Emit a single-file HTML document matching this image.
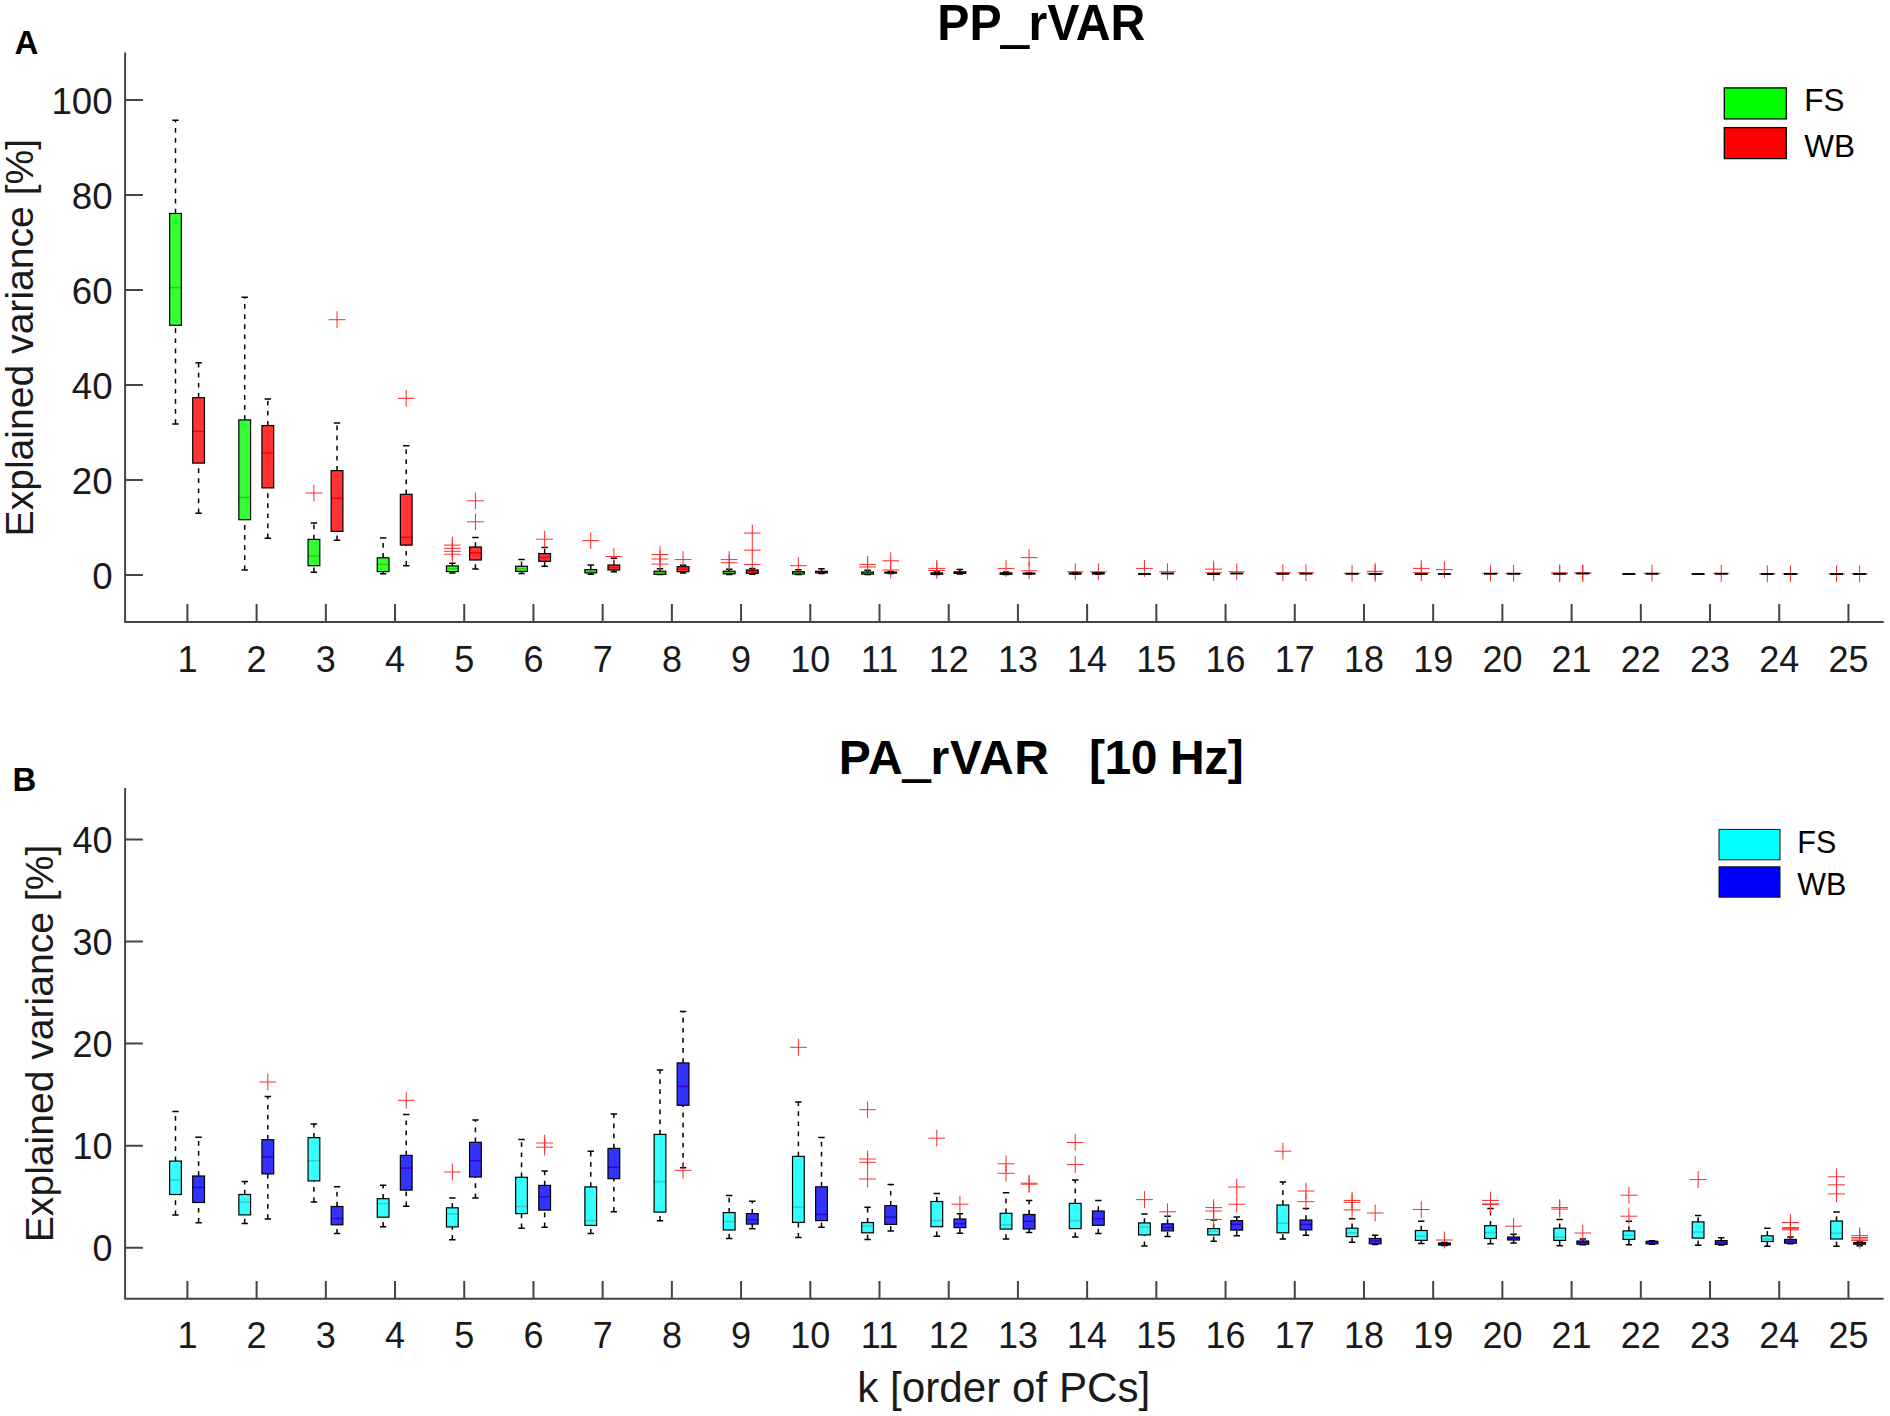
<!DOCTYPE html>
<html lang="en"><head><meta charset="utf-8"><title>PP_rVAR / PA_rVAR explained variance</title>
<style>
html,body{margin:0;padding:0;background:#fff}
body{width:1890px;height:1416px;overflow:hidden}
svg{display:block}
text{font-family:"Liberation Sans",Arial,Helvetica,sans-serif;fill:#111}
.t{font-size:36px;fill:#1a1a1a}
.t2{font-size:36.7px;fill:#1a1a1a}
.l{font-size:39.1px;fill:#1a1a1a}
.xl{font-size:42.2px;fill:#1a1a1a}
.ti{font-size:48px;font-weight:bold;fill:#000}
.pl{font-size:33px;font-weight:bold;fill:#000}
.lg{font-size:31.5px;fill:#000}
.lg2{font-size:30.5px;fill:#000}
.ax{fill:none;stroke:#444;stroke-width:2}
.w{fill:none;stroke:#000;stroke-width:1.5;stroke-dasharray:4.7 5.4}
.c{fill:none;stroke:#000;stroke-width:1.5}
.m{fill:none;stroke:#f00;stroke-width:1.5}
.b{stroke:#000;stroke-width:1.2;fill-opacity:.8}
.o{fill:none;stroke:#ff2a2a;stroke-width:1}
</style></head><body>
<svg width="1890" height="1416" viewBox="0 0 1890 1416">
<rect width="1890" height="1416" fill="#fff"/>

<g id="panelA">
<path class="ax" d="M125.1 52.4V621.9H1883.7"/>
<path class="ax" d="M125.1 575.00h17.8M125.1 480.00h17.8M125.1 385.00h17.8M125.1 290.00h17.8M125.1 195.00h17.8M125.1 100.00h17.8M187.40 621.9v-17.8M256.61 621.9v-17.8M325.82 621.9v-17.8M395.03 621.9v-17.8M464.24 621.9v-17.8M533.45 621.9v-17.8M602.66 621.9v-17.8M671.87 621.9v-17.8M741.08 621.9v-17.8M810.29 621.9v-17.8M879.50 621.9v-17.8M948.71 621.9v-17.8M1017.92 621.9v-17.8M1087.13 621.9v-17.8M1156.34 621.9v-17.8M1225.55 621.9v-17.8M1294.76 621.9v-17.8M1363.97 621.9v-17.8M1433.18 621.9v-17.8M1502.39 621.9v-17.8M1571.60 621.9v-17.8M1640.81 621.9v-17.8M1710.02 621.9v-17.8M1779.23 621.9v-17.8M1848.44 621.9v-17.8"/>
<text class="t2" text-anchor="end" x="112.6" y="589.4">0</text>
<text class="t2" text-anchor="end" x="112.6" y="494.4">20</text>
<text class="t2" text-anchor="end" x="112.6" y="399.4">40</text>
<text class="t2" text-anchor="end" x="112.6" y="304.4">60</text>
<text class="t2" text-anchor="end" x="112.6" y="209.4">80</text>
<text class="t2" text-anchor="end" x="112.6" y="114.4">100</text>
<text class="t" text-anchor="middle" x="187.4" y="671.5">1</text>
<text class="t" text-anchor="middle" x="256.6" y="671.5">2</text>
<text class="t" text-anchor="middle" x="325.8" y="671.5">3</text>
<text class="t" text-anchor="middle" x="395.0" y="671.5">4</text>
<text class="t" text-anchor="middle" x="464.2" y="671.5">5</text>
<text class="t" text-anchor="middle" x="533.4" y="671.5">6</text>
<text class="t" text-anchor="middle" x="602.7" y="671.5">7</text>
<text class="t" text-anchor="middle" x="671.9" y="671.5">8</text>
<text class="t" text-anchor="middle" x="741.1" y="671.5">9</text>
<text class="t" text-anchor="middle" x="810.3" y="671.5">10</text>
<text class="t" text-anchor="middle" x="879.5" y="671.5">11</text>
<text class="t" text-anchor="middle" x="948.7" y="671.5">12</text>
<text class="t" text-anchor="middle" x="1017.9" y="671.5">13</text>
<text class="t" text-anchor="middle" x="1087.1" y="671.5">14</text>
<text class="t" text-anchor="middle" x="1156.3" y="671.5">15</text>
<text class="t" text-anchor="middle" x="1225.5" y="671.5">16</text>
<text class="t" text-anchor="middle" x="1294.8" y="671.5">17</text>
<text class="t" text-anchor="middle" x="1364.0" y="671.5">18</text>
<text class="t" text-anchor="middle" x="1433.2" y="671.5">19</text>
<text class="t" text-anchor="middle" x="1502.4" y="671.5">20</text>
<text class="t" text-anchor="middle" x="1571.6" y="671.5">21</text>
<text class="t" text-anchor="middle" x="1640.8" y="671.5">22</text>
<text class="t" text-anchor="middle" x="1710.0" y="671.5">23</text>
<text class="t" text-anchor="middle" x="1779.2" y="671.5">24</text>
<text class="t" text-anchor="middle" x="1848.4" y="671.5">25</text>
<path class="w" d="M175.5 213.5V120.3"/><path class="w" d="M175.5 423.9V325.3"/><path class="c" d="M172.3 120.3h6.4M172.3 423.9h6.4"/><path class="m" d="M169.62 287.6h11.75"/><rect class="b" x="169.62" y="213.5" width="11.75" height="111.8" fill="#0f0"/>
<path class="w" d="M198.6 397.7V362.7"/><path class="w" d="M198.6 513.3V463.1"/><path class="c" d="M195.4 362.7h6.4M195.4 513.3h6.4"/><path class="m" d="M192.73 431.4h11.75"/><rect class="b" x="192.73" y="397.7" width="11.75" height="65.4" fill="#f00"/>
<path class="w" d="M244.71 419.9V297.2"/><path class="w" d="M244.71 570.1V519.7"/><path class="c" d="M241.51 297.2h6.4M241.51 570.1h6.4"/><path class="m" d="M238.83 497.5h11.75"/><rect class="b" x="238.83" y="419.9" width="11.75" height="99.8" fill="#0f0"/>
<path class="w" d="M267.81 425.6V398.9"/><path class="w" d="M267.81 538.3V487.9"/><path class="c" d="M264.61 398.9h6.4M264.61 538.3h6.4"/><path class="m" d="M261.94 453h11.75"/><rect class="b" x="261.94" y="425.6" width="11.75" height="62.3" fill="#f00"/>
<path class="w" d="M313.92 539.4V523.1"/><path class="w" d="M313.92 572.2V565.7"/><path class="c" d="M310.72 523.1h6.4M310.72 572.2h6.4"/><path class="m" d="M308.05 555.9h11.75"/><path class="o" d="M305.52 493h16.8M313.92 484.6v16.8"/><rect class="b" x="308.05" y="539.4" width="11.75" height="26.3" fill="#0f0"/>
<path class="w" d="M337.02 470.6V422.9"/><path class="w" d="M337.02 540.3V531.4"/><path class="c" d="M333.82 422.9h6.4M333.82 540.3h6.4"/><path class="m" d="M331.15 498.3h11.75"/><path class="o" d="M328.62 319.7h16.8M337.02 311.3v16.8"/><rect class="b" x="331.15" y="470.6" width="11.75" height="60.8" fill="#f00"/>
<path class="w" d="M383.13 557.8V538.1"/><path class="w" d="M383.13 573.7V571.6"/><path class="c" d="M379.93 538.1h6.4M379.93 573.7h6.4"/><path class="m" d="M377.25 564.4h11.75"/><rect class="b" x="377.25" y="557.8" width="11.75" height="13.8" fill="#0f0"/>
<path class="w" d="M406.23 494.3V445.8"/><path class="w" d="M406.23 565.7V545.1"/><path class="c" d="M403.03 445.8h6.4M403.03 565.7h6.4"/><path class="m" d="M400.36 537.3h11.75"/><path class="o" d="M397.83 398.3h16.8M406.23 389.9v16.8"/><rect class="b" x="400.36" y="494.3" width="11.75" height="50.8" fill="#f00"/>
<path class="w" d="M452.34 565.9V563.3"/><path class="w" d="M452.34 572.9V571.6"/><path class="c" d="M449.14 563.3h6.4M449.14 572.9h6.4"/><path class="m" d="M446.46 568.6h11.75"/><path class="o" d="M443.94 545.1h16.8M452.34 536.7v16.8"/><path class="o" d="M443.94 548.3h16.8M452.34 539.9v16.8"/><path class="o" d="M443.94 551.3h16.8M452.34 542.9v16.8"/><path class="o" d="M443.94 554.2h16.8M452.34 545.8v16.8"/><rect class="b" x="446.46" y="565.9" width="11.75" height="5.7" fill="#0f0"/>
<path class="w" d="M475.44 547V537.5"/><path class="w" d="M475.44 569V560"/><path class="c" d="M472.24 537.5h6.4M472.24 569h6.4"/><path class="m" d="M469.56 552.8h11.75"/><path class="o" d="M467.04 500.8h16.8M475.44 492.4v16.8"/><path class="o" d="M467.04 521.8h16.8M475.44 513.4v16.8"/><rect class="b" x="469.56" y="547" width="11.75" height="13" fill="#f00"/>
<path class="w" d="M521.55 566.3V559.6"/><path class="w" d="M521.55 573.4V571.4"/><path class="c" d="M518.35 559.6h6.4M518.35 573.4h6.4"/><path class="m" d="M515.67 568.8h11.75"/><rect class="b" x="515.67" y="566.3" width="11.75" height="5.1" fill="#0f0"/>
<path class="w" d="M544.65 553.6V547.5"/><path class="w" d="M544.65 566.3V561.3"/><path class="c" d="M541.45 547.5h6.4M541.45 566.3h6.4"/><path class="m" d="M538.77 557.5h11.75"/><path class="o" d="M536.25 539.2h16.8M544.65 530.8v16.8"/><rect class="b" x="538.77" y="553.6" width="11.75" height="7.7" fill="#f00"/>
<path class="w" d="M590.76 569.6V565"/><path class="w" d="M590.76 574.3V572.9"/><path class="c" d="M587.56 565h6.4M587.56 574.3h6.4"/><path class="m" d="M584.88 571.2h11.75"/><path class="o" d="M582.36 540.6h16.8M590.76 532.2v16.8"/><rect class="b" x="584.88" y="569.6" width="11.75" height="3.3" fill="#0f0"/>
<path class="w" d="M613.86 565V558.2"/><path class="w" d="M613.86 571.7V570"/><path class="c" d="M610.66 558.2h6.4M610.66 571.7h6.4"/><path class="m" d="M607.98 567.5h11.75"/><path class="o" d="M605.46 556.5h16.8M613.86 548.1v16.8"/><rect class="b" x="607.98" y="565" width="11.75" height="5" fill="#f00"/>
<path class="w" d="M659.97 571.2V568.7"/><path class="c" d="M656.77 568.7h6.4M656.77 574.6h6.4"/><path class="m" d="M654.1 572.7h11.75"/><path class="o" d="M651.57 554.5h16.8M659.97 546.1v16.8"/><path class="o" d="M651.57 559h16.8M659.97 550.6v16.8"/><path class="o" d="M651.57 564.1h16.8M659.97 555.7v16.8"/><rect class="b" x="654.1" y="571.2" width="11.75" height="3.1" fill="#0f0"/>
<path class="w" d="M683.07 566.7V565.3"/><path class="w" d="M683.07 573.1V571.7"/><path class="c" d="M679.87 565.3h6.4M679.87 573.1h6.4"/><path class="m" d="M677.19 569.2h11.75"/><path class="o" d="M674.67 559.6h16.8M683.07 551.2v16.8"/><rect class="b" x="677.19" y="566.7" width="11.75" height="5" fill="#f00"/>
<path class="w" d="M729.18 571.2V569.2"/><path class="w" d="M729.18 574.5V573.8"/><path class="c" d="M725.98 569.2h6.4M725.98 574.5h6.4"/><path class="m" d="M723.31 572.5h11.75"/><path class="o" d="M720.78 559.6h16.8M729.18 551.2v16.8"/><path class="o" d="M720.78 562.8h16.8M729.18 554.4v16.8"/><rect class="b" x="723.31" y="571.2" width="11.75" height="2.6" fill="#0f0"/>
<path class="w" d="M752.28 570V568.5"/><path class="w" d="M752.28 574.3V573.4"/><path class="c" d="M749.08 568.5h6.4M749.08 574.3h6.4"/><path class="m" d="M746.4 571.7h11.75"/><path class="o" d="M743.88 533.1h16.8M752.28 524.7v16.8"/><path class="o" d="M743.88 550.2h16.8M752.28 541.8v16.8"/><path class="o" d="M743.88 564.6h16.8M752.28 556.2v16.8"/><rect class="b" x="746.4" y="570" width="11.75" height="3.4" fill="#f00"/>
<path class="w" d="M798.39 571.7V569.8"/><path class="w" d="M798.39 574.6V574"/><path class="c" d="M795.19 569.8h6.4M795.19 574.6h6.4"/><path class="m" d="M792.52 572.9h11.75"/><path class="o" d="M789.99 565.7h16.8M798.39 557.3v16.8"/><rect class="b" x="792.52" y="571.7" width="11.75" height="2.3" fill="#0f0"/>
<path class="w" d="M821.49 571.3V568.8"/><path class="w" d="M821.49 573.6V572.9"/><path class="c" d="M818.29 568.8h6.4M818.29 573.6h6.4"/><path class="m" d="M815.62 572.1h11.75"/><rect class="b" x="815.62" y="571.3" width="11.75" height="1.6" fill="#f00"/>
<path class="w" d="M867.6 572V570.2"/><path class="c" d="M864.4 570.2h6.4M864.4 574.6h6.4"/><path class="m" d="M861.72 573.1h11.75"/><path class="o" d="M859.2 564.4h16.8M867.6 556v16.8"/><path class="o" d="M859.2 567h16.8M867.6 558.6v16.8"/><rect class="b" x="861.72" y="572" width="11.75" height="2.1" fill="#0f0"/>
<path class="w" d="M890.7 572.2V571.6"/><path class="w" d="M890.7 573.6V573"/><path class="c" d="M887.5 571.6h6.4M887.5 573.6h6.4"/><path class="m" d="M884.82 572.6h11.75"/><path class="o" d="M882.3 560.8h16.8M890.7 552.4v16.8"/><path class="o" d="M882.3 570h16.8M890.7 561.6v16.8"/><rect class="b" x="884.82" y="572.2" width="11.75" height="0.8" fill="#f00"/>
<path class="w" d="M936.81 573V572"/><path class="c" d="M933.61 572h6.4M933.61 574.6h6.4"/><path class="m" d="M930.93 573.6h11.75"/><path class="o" d="M928.41 568.4h16.8M936.81 560v16.8"/><path class="o" d="M928.41 570.5h16.8M936.81 562.1v16.8"/><rect class="b" x="930.93" y="573" width="11.75" height="1.2" fill="#0f0"/>
<path class="w" d="M959.91 571.9V569.6"/><path class="w" d="M959.91 574V573.3"/><path class="c" d="M956.71 569.6h6.4M956.71 574h6.4"/><path class="m" d="M954.03 572.6h11.75"/><rect class="b" x="954.03" y="571.9" width="11.75" height="1.4" fill="#f00"/>
<path class="w" d="M1006.02 572.9V572"/><path class="c" d="M1002.82 572h6.4M1002.82 574.6h6.4"/><path class="m" d="M1000.14 573.6h11.75"/><path class="o" d="M997.62 568.4h16.8M1006.02 560v16.8"/><rect class="b" x="1000.14" y="572.9" width="11.75" height="1.3" fill="#0f0"/>
<path class="c" d="M1025.92 572.9h6.4M1025.92 574.3h6.4"/><path class="m" d="M1023.24 573.6h11.75"/><path class="o" d="M1020.72 557.6h16.8M1029.12 549.2v16.8"/><path class="o" d="M1020.72 570.8h16.8M1029.12 562.4v16.8"/><rect class="b" x="1023.24" y="573.2" width="11.75" height="0.8" fill="#f00"/>
<path class="c" d="M1072.03 572.6h6.4M1072.03 574.3h6.4"/><path class="m" d="M1069.36 573.5h11.75"/><path class="o" d="M1066.83 571.8h16.8M1075.23 563.4v16.8"/><rect class="b" x="1069.36" y="573" width="11.75" height="1" fill="#0f0"/>
<path class="c" d="M1095.13 572.4h6.4M1095.13 574.2h6.4"/><path class="m" d="M1092.45 573.3h11.75"/><path class="o" d="M1089.93 571.8h16.8M1098.33 563.4v16.8"/><rect class="b" x="1092.45" y="572.8" width="11.75" height="1.1" fill="#f00"/>
<path class="o" d="M1136.04 568.4h16.8M1144.44 560v16.8"/><path d="M1137.97 574h12.95" stroke="#000" stroke-width="1.9" fill="none"/>
<path class="o" d="M1159.14 571.8h16.8M1167.54 563.4v16.8"/><path d="M1161.07 573.5h12.95" stroke="#000" stroke-width="1.9" fill="none"/>
<path class="o" d="M1205.25 569.1h16.8M1213.65 560.7v16.8"/><path class="o" d="M1205.25 572.7h16.8M1213.65 564.3v16.8"/><path d="M1207.17 574h12.95" stroke="#000" stroke-width="1.9" fill="none"/>
<path class="o" d="M1228.35 571.8h16.8M1236.75 563.4v16.8"/><path d="M1230.27 573.5h12.95" stroke="#000" stroke-width="1.9" fill="none"/>
<path class="o" d="M1274.46 572.7h16.8M1282.86 564.3v16.8"/><path d="M1276.38 573.8h12.95" stroke="#000" stroke-width="1.9" fill="none"/>
<path class="o" d="M1297.56 572.7h16.8M1305.96 564.3v16.8"/><path d="M1299.48 573.7h12.95" stroke="#000" stroke-width="1.9" fill="none"/>
<path class="o" d="M1343.67 573.3h16.8M1352.07 564.9v16.8"/><path d="M1345.6 573.8h12.95" stroke="#000" stroke-width="1.9" fill="none"/>
<path class="o" d="M1366.77 571.3h16.8M1375.17 562.9v16.8"/><path class="o" d="M1366.77 573.3h16.8M1375.17 564.9v16.8"/><path d="M1368.69 574h12.95" stroke="#000" stroke-width="1.9" fill="none"/>
<path class="o" d="M1412.88 568.4h16.8M1421.28 560v16.8"/><path class="o" d="M1412.88 572.7h16.8M1421.28 564.3v16.8"/><path d="M1414.81 574h12.95" stroke="#000" stroke-width="1.9" fill="none"/>
<path class="o" d="M1435.98 569.6h16.8M1444.38 561.2v16.8"/><path d="M1437.9 574h12.95" stroke="#000" stroke-width="1.9" fill="none"/>
<path class="o" d="M1482.09 573.3h16.8M1490.49 564.9v16.8"/><path d="M1484.01 573.8h12.95" stroke="#000" stroke-width="1.9" fill="none"/>
<path class="o" d="M1505.19 573.3h16.8M1513.59 564.9v16.8"/><path d="M1507.11 573.8h12.95" stroke="#000" stroke-width="1.9" fill="none"/>
<path class="o" d="M1551.3 572.9h16.8M1559.7 564.5v16.8"/><path class="o" d="M1551.3 573.8h16.8M1559.7 565.4v16.8"/><path d="M1553.22 573.8h12.95" stroke="#000" stroke-width="1.9" fill="none"/>
<path class="o" d="M1574.4 572.9h16.8M1582.8 564.5v16.8"/><path class="o" d="M1574.4 573.3h16.8M1582.8 564.9v16.8"/><path d="M1576.32 573.5h12.95" stroke="#000" stroke-width="1.9" fill="none"/>
<path d="M1622.43 574h12.95" stroke="#000" stroke-width="1.9" fill="none"/>
<path class="o" d="M1643.61 573.3h16.8M1652.01 564.9v16.8"/><path d="M1645.53 573.8h12.95" stroke="#000" stroke-width="1.9" fill="none"/>
<path d="M1691.64 574h12.95" stroke="#000" stroke-width="1.9" fill="none"/>
<path class="o" d="M1712.82 573.3h16.8M1721.22 564.9v16.8"/><path d="M1714.74 573.8h12.95" stroke="#000" stroke-width="1.9" fill="none"/>
<path class="o" d="M1758.93 573.8h16.8M1767.33 565.4v16.8"/><path d="M1760.86 574h12.95" stroke="#000" stroke-width="1.9" fill="none"/>
<path class="o" d="M1782.03 573.8h16.8M1790.43 565.4v16.8"/><path d="M1783.95 574h12.95" stroke="#000" stroke-width="1.9" fill="none"/>
<path class="o" d="M1828.14 573.8h16.8M1836.54 565.4v16.8"/><path d="M1830.07 574h12.95" stroke="#000" stroke-width="1.9" fill="none"/>
<path class="o" d="M1851.24 573.8h16.8M1859.64 565.4v16.8"/><path d="M1853.16 574h12.95" stroke="#000" stroke-width="1.9" fill="none"/>
<text class="ti" text-anchor="middle" transform="translate(1041.3 39.9) scale(.98 1)" style="font-size:49.2px">PP<tspan dy="1.9" stroke="#000" stroke-width="2">_</tspan><tspan dy="-1.9">rVAR</tspan></text>
<text class="pl" x="14.6" y="54.3">A</text>
<text class="l" transform="translate(33.4 536.4) rotate(-90)">Explained variance [%]</text>
<rect x="1724.3" y="87.9" width="62" height="31" fill="#0f0" stroke="#000" stroke-width="1.3"/>
<rect x="1724.3" y="127.6" width="62" height="31" fill="#f00" stroke="#000" stroke-width="1.3"/>
<text class="lg" x="1804.2" y="111">FS</text><text class="lg" x="1804.2" y="157.1">WB</text>
</g>
<g id="panelB">
<path class="ax" d="M125.1 788V1298.7H1883.7"/>
<path class="ax" d="M125.1 1247.70h17.8M125.1 1145.65h17.8M125.1 1043.60h17.8M125.1 941.55h17.8M125.1 839.50h17.8M187.40 1298.7v-17.8M256.61 1298.7v-17.8M325.82 1298.7v-17.8M395.03 1298.7v-17.8M464.24 1298.7v-17.8M533.45 1298.7v-17.8M602.66 1298.7v-17.8M671.87 1298.7v-17.8M741.08 1298.7v-17.8M810.29 1298.7v-17.8M879.50 1298.7v-17.8M948.71 1298.7v-17.8M1017.92 1298.7v-17.8M1087.13 1298.7v-17.8M1156.34 1298.7v-17.8M1225.55 1298.7v-17.8M1294.76 1298.7v-17.8M1363.97 1298.7v-17.8M1433.18 1298.7v-17.8M1502.39 1298.7v-17.8M1571.60 1298.7v-17.8M1640.81 1298.7v-17.8M1710.02 1298.7v-17.8M1779.23 1298.7v-17.8M1848.44 1298.7v-17.8"/>
<text class="t" text-anchor="end" x="112.6" y="1261.2">0</text>
<text class="t" text-anchor="end" x="112.6" y="1159.2">10</text>
<text class="t" text-anchor="end" x="112.6" y="1057.1">20</text>
<text class="t" text-anchor="end" x="112.6" y="955.1">30</text>
<text class="t" text-anchor="end" x="112.6" y="853.0">40</text>
<text class="t" text-anchor="middle" x="187.4" y="1348">1</text>
<text class="t" text-anchor="middle" x="256.6" y="1348">2</text>
<text class="t" text-anchor="middle" x="325.8" y="1348">3</text>
<text class="t" text-anchor="middle" x="395.0" y="1348">4</text>
<text class="t" text-anchor="middle" x="464.2" y="1348">5</text>
<text class="t" text-anchor="middle" x="533.4" y="1348">6</text>
<text class="t" text-anchor="middle" x="602.7" y="1348">7</text>
<text class="t" text-anchor="middle" x="671.9" y="1348">8</text>
<text class="t" text-anchor="middle" x="741.1" y="1348">9</text>
<text class="t" text-anchor="middle" x="810.3" y="1348">10</text>
<text class="t" text-anchor="middle" x="879.5" y="1348">11</text>
<text class="t" text-anchor="middle" x="948.7" y="1348">12</text>
<text class="t" text-anchor="middle" x="1017.9" y="1348">13</text>
<text class="t" text-anchor="middle" x="1087.1" y="1348">14</text>
<text class="t" text-anchor="middle" x="1156.3" y="1348">15</text>
<text class="t" text-anchor="middle" x="1225.5" y="1348">16</text>
<text class="t" text-anchor="middle" x="1294.8" y="1348">17</text>
<text class="t" text-anchor="middle" x="1364.0" y="1348">18</text>
<text class="t" text-anchor="middle" x="1433.2" y="1348">19</text>
<text class="t" text-anchor="middle" x="1502.4" y="1348">20</text>
<text class="t" text-anchor="middle" x="1571.6" y="1348">21</text>
<text class="t" text-anchor="middle" x="1640.8" y="1348">22</text>
<text class="t" text-anchor="middle" x="1710.0" y="1348">23</text>
<text class="t" text-anchor="middle" x="1779.2" y="1348">24</text>
<text class="t" text-anchor="middle" x="1848.4" y="1348">25</text>
<path class="w" d="M175.5 1161.1V1111.5"/><path class="w" d="M175.5 1215.1V1194.5"/><path class="c" d="M172.3 1111.5h6.4M172.3 1215.1h6.4"/><path class="m" d="M169.62 1180h11.75"/><rect class="b" x="169.62" y="1161.1" width="11.75" height="33.4" fill="#0ff"/>
<path class="w" d="M198.6 1176V1137.3"/><path class="w" d="M198.6 1222.7V1202.5"/><path class="c" d="M195.4 1137.3h6.4M195.4 1222.7h6.4"/><path class="m" d="M192.73 1187.4h11.75"/><rect class="b" x="192.73" y="1176" width="11.75" height="26.5" fill="#00f"/>
<path class="w" d="M244.71 1194.5V1181.5"/><path class="w" d="M244.71 1223.4V1214.9"/><path class="c" d="M241.51 1181.5h6.4M241.51 1223.4h6.4"/><path class="m" d="M238.83 1202.1h11.75"/><rect class="b" x="238.83" y="1194.5" width="11.75" height="20.4" fill="#0ff"/>
<path class="w" d="M267.81 1139.7V1096.4"/><path class="w" d="M267.81 1218.9V1173.9"/><path class="c" d="M264.61 1096.4h6.4M264.61 1218.9h6.4"/><path class="m" d="M261.94 1156.9h11.75"/><path class="o" d="M259.41 1082h16.8M267.81 1073.6v16.8"/><rect class="b" x="261.94" y="1139.7" width="11.75" height="34.2" fill="#00f"/>
<path class="w" d="M313.92 1137.6V1123.9"/><path class="w" d="M313.92 1201.9V1180.9"/><path class="c" d="M310.72 1123.9h6.4M310.72 1201.9h6.4"/><path class="m" d="M308.05 1160.7h11.75"/><rect class="b" x="308.05" y="1137.6" width="11.75" height="43.3" fill="#0ff"/>
<path class="w" d="M337.02 1206.5V1186.8"/><path class="w" d="M337.02 1233.6V1224.8"/><path class="c" d="M333.82 1186.8h6.4M333.82 1233.6h6.4"/><path class="m" d="M331.15 1218.5h11.75"/><rect class="b" x="331.15" y="1206.5" width="11.75" height="18.3" fill="#00f"/>
<path class="w" d="M383.13 1198.7V1185.3"/><path class="w" d="M383.13 1226.7V1217.2"/><path class="c" d="M379.93 1185.3h6.4M379.93 1226.7h6.4"/><path class="m" d="M377.25 1203.6h11.75"/><rect class="b" x="377.25" y="1198.7" width="11.75" height="18.5" fill="#0ff"/>
<path class="w" d="M406.23 1155.4V1114.4"/><path class="w" d="M406.23 1206.3V1190.1"/><path class="c" d="M403.03 1114.4h6.4M403.03 1206.3h6.4"/><path class="m" d="M400.36 1168.1h11.75"/><path class="o" d="M397.83 1100.3h16.8M406.23 1091.9v16.8"/><rect class="b" x="400.36" y="1155.4" width="11.75" height="34.7" fill="#00f"/>
<path class="w" d="M452.34 1207.8V1198.1"/><path class="w" d="M452.34 1239.8V1226.9"/><path class="c" d="M449.14 1198.1h6.4M449.14 1239.8h6.4"/><path class="m" d="M446.46 1213.9h11.75"/><path class="o" d="M443.94 1172h16.8M452.34 1163.6v16.8"/><rect class="b" x="446.46" y="1207.8" width="11.75" height="19.1" fill="#0ff"/>
<path class="w" d="M475.44 1142.3V1120"/><path class="w" d="M475.44 1198.1V1177"/><path class="c" d="M472.24 1120h6.4M472.24 1198.1h6.4"/><path class="m" d="M469.56 1160.6h11.75"/><rect class="b" x="469.56" y="1142.3" width="11.75" height="34.7" fill="#00f"/>
<path class="w" d="M521.55 1177.3V1139.6"/><path class="w" d="M521.55 1228.3V1213.6"/><path class="c" d="M518.35 1139.6h6.4M518.35 1228.3h6.4"/><path class="m" d="M515.67 1206.5h11.75"/><rect class="b" x="515.67" y="1177.3" width="11.75" height="36.3" fill="#0ff"/>
<path class="w" d="M544.65 1185.4V1171.1"/><path class="w" d="M544.65 1227.3V1210.1"/><path class="c" d="M541.45 1171.1h6.4M541.45 1227.3h6.4"/><path class="m" d="M538.77 1196.8h11.75"/><path class="o" d="M536.25 1143h16.8M544.65 1134.6v16.8"/><path class="o" d="M536.25 1147.2h16.8M544.65 1138.8v16.8"/><rect class="b" x="538.77" y="1185.4" width="11.75" height="24.7" fill="#00f"/>
<path class="w" d="M590.76 1186.9V1151.2"/><path class="w" d="M590.76 1233.6V1225.4"/><path class="c" d="M587.56 1151.2h6.4M587.56 1233.6h6.4"/><path class="m" d="M584.88 1220.6h11.75"/><rect class="b" x="584.88" y="1186.9" width="11.75" height="38.5" fill="#0ff"/>
<path class="w" d="M613.86 1148.4V1114"/><path class="w" d="M613.86 1211.7V1178.7"/><path class="c" d="M610.66 1114h6.4M610.66 1211.7h6.4"/><path class="m" d="M607.98 1167.2h11.75"/><rect class="b" x="607.98" y="1148.4" width="11.75" height="30.3" fill="#00f"/>
<path class="w" d="M659.97 1134.4V1070"/><path class="w" d="M659.97 1220.8V1212.1"/><path class="c" d="M656.77 1070h6.4M656.77 1220.8h6.4"/><path class="m" d="M654.1 1181.7h11.75"/><rect class="b" x="654.1" y="1134.4" width="11.75" height="77.7" fill="#0ff"/>
<path class="w" d="M683.07 1062.9V1011.4"/><path class="w" d="M683.07 1167.8V1105.3"/><path class="c" d="M679.87 1011.4h6.4M679.87 1167.8h6.4"/><path class="m" d="M677.19 1086.4h11.75"/><path class="o" d="M674.67 1170.3h16.8M683.07 1161.9v16.8"/><rect class="b" x="677.19" y="1062.9" width="11.75" height="42.4" fill="#00f"/>
<path class="w" d="M729.18 1212.6V1195.5"/><path class="w" d="M729.18 1238.4V1230"/><path class="c" d="M725.98 1195.5h6.4M725.98 1238.4h6.4"/><path class="m" d="M723.31 1221.6h11.75"/><rect class="b" x="723.31" y="1212.6" width="11.75" height="17.4" fill="#0ff"/>
<path class="w" d="M752.28 1213.6V1201.2"/><path class="w" d="M752.28 1228.8V1224.1"/><path class="c" d="M749.08 1201.2h6.4M749.08 1228.8h6.4"/><path class="m" d="M746.4 1219.7h11.75"/><rect class="b" x="746.4" y="1213.6" width="11.75" height="10.5" fill="#00f"/>
<path class="w" d="M798.39 1156.4V1102"/><path class="w" d="M798.39 1237.6V1222.4"/><path class="c" d="M795.19 1102h6.4M795.19 1237.6h6.4"/><path class="m" d="M792.52 1207.1h11.75"/><path class="o" d="M789.99 1047.3h16.8M798.39 1038.9v16.8"/><rect class="b" x="792.52" y="1156.4" width="11.75" height="66" fill="#0ff"/>
<path class="w" d="M821.49 1186.8V1137.4"/><path class="w" d="M821.49 1227.2V1220.6"/><path class="c" d="M818.29 1137.4h6.4M818.29 1227.2h6.4"/><path class="m" d="M815.62 1214.4h11.75"/><rect class="b" x="815.62" y="1186.8" width="11.75" height="33.8" fill="#00f"/>
<path class="w" d="M867.6 1222.5V1207.2"/><path class="w" d="M867.6 1239.4V1232.8"/><path class="c" d="M864.4 1207.2h6.4M864.4 1239.4h6.4"/><path class="m" d="M861.72 1226.1h11.75"/><path class="o" d="M859.2 1109.7h16.8M867.6 1101.3v16.8"/><path class="o" d="M859.2 1159h16.8M867.6 1150.6v16.8"/><path class="o" d="M859.2 1162.3h16.8M867.6 1153.9v16.8"/><path class="o" d="M859.2 1179h16.8M867.6 1170.6v16.8"/><rect class="b" x="861.72" y="1222.5" width="11.75" height="10.3" fill="#0ff"/>
<path class="w" d="M890.7 1205.7V1184.4"/><path class="w" d="M890.7 1230.9V1224.4"/><path class="c" d="M887.5 1184.4h6.4M887.5 1230.9h6.4"/><path class="m" d="M884.82 1217.1h11.75"/><rect class="b" x="884.82" y="1205.7" width="11.75" height="18.7" fill="#00f"/>
<path class="w" d="M936.81 1201.5V1193.5"/><path class="w" d="M936.81 1236.2V1226.7"/><path class="c" d="M933.61 1193.5h6.4M933.61 1236.2h6.4"/><path class="m" d="M930.93 1220.6h11.75"/><path class="o" d="M928.41 1138.1h16.8M936.81 1129.7v16.8"/><rect class="b" x="930.93" y="1201.5" width="11.75" height="25.2" fill="#0ff"/>
<path class="w" d="M959.91 1219V1213.7"/><path class="w" d="M959.91 1233.3V1227.6"/><path class="c" d="M956.71 1213.7h6.4M956.71 1233.3h6.4"/><path class="m" d="M954.03 1223.8h11.75"/><path class="o" d="M951.51 1204.2h16.8M959.91 1195.8v16.8"/><rect class="b" x="954.03" y="1219" width="11.75" height="8.6" fill="#00f"/>
<path class="w" d="M1006.02 1213.3V1192.8"/><path class="w" d="M1006.02 1239V1229.1"/><path class="c" d="M1002.82 1192.8h6.4M1002.82 1239h6.4"/><path class="m" d="M1000.14 1224.8h11.75"/><path class="o" d="M997.62 1163.8h16.8M1006.02 1155.4v16.8"/><path class="o" d="M997.62 1173.3h16.8M1006.02 1164.9v16.8"/><rect class="b" x="1000.14" y="1213.3" width="11.75" height="15.8" fill="#0ff"/>
<path class="w" d="M1029.12 1214.5V1200.6"/><path class="w" d="M1029.12 1232.4V1229"/><path class="c" d="M1025.92 1200.6h6.4M1025.92 1232.4h6.4"/><path class="m" d="M1023.24 1221.3h11.75"/><path class="o" d="M1020.72 1183.2h16.8M1029.12 1174.8v16.8"/><path class="o" d="M1020.72 1184.2h16.8M1029.12 1175.8v16.8"/><rect class="b" x="1023.24" y="1214.5" width="11.75" height="14.5" fill="#00f"/>
<path class="w" d="M1075.23 1203.4V1180"/><path class="w" d="M1075.23 1237.1V1228.6"/><path class="c" d="M1072.03 1180h6.4M1072.03 1237.1h6.4"/><path class="m" d="M1069.36 1220.6h11.75"/><path class="o" d="M1066.83 1142.5h16.8M1075.23 1134.1v16.8"/><path class="o" d="M1066.83 1164.6h16.8M1075.23 1156.2v16.8"/><rect class="b" x="1069.36" y="1203.4" width="11.75" height="25.2" fill="#0ff"/>
<path class="w" d="M1098.33 1211V1200.4"/><path class="w" d="M1098.33 1233.5V1225.3"/><path class="c" d="M1095.13 1200.4h6.4M1095.13 1233.5h6.4"/><path class="m" d="M1092.45 1218.7h11.75"/><rect class="b" x="1092.45" y="1211" width="11.75" height="14.3" fill="#00f"/>
<path class="w" d="M1144.44 1222.9V1213.9"/><path class="w" d="M1144.44 1246.1V1234.9"/><path class="c" d="M1141.24 1213.9h6.4M1141.24 1246.1h6.4"/><path class="m" d="M1138.57 1227h11.75"/><path class="o" d="M1136.04 1199.6h16.8M1144.44 1191.2v16.8"/><rect class="b" x="1138.57" y="1222.9" width="11.75" height="12" fill="#0ff"/>
<path class="w" d="M1167.54 1223.8V1216.2"/><path class="w" d="M1167.54 1236.6V1230.9"/><path class="c" d="M1164.34 1216.2h6.4M1164.34 1236.6h6.4"/><path class="m" d="M1161.66 1227.6h11.75"/><path class="o" d="M1159.14 1211.8h16.8M1167.54 1203.4v16.8"/><rect class="b" x="1161.66" y="1223.8" width="11.75" height="7.1" fill="#00f"/>
<path class="w" d="M1213.65 1228.6V1220"/><path class="w" d="M1213.65 1241.3V1234.9"/><path class="c" d="M1210.45 1220h6.4M1210.45 1241.3h6.4"/><path class="m" d="M1207.77 1231.4h11.75"/><path class="o" d="M1205.25 1207.6h16.8M1213.65 1199.2v16.8"/><path class="o" d="M1205.25 1211h16.8M1213.65 1202.6v16.8"/><path class="o" d="M1205.25 1219.4h16.8M1213.65 1211v16.8"/><rect class="b" x="1207.77" y="1228.6" width="11.75" height="6.3" fill="#0ff"/>
<path class="w" d="M1236.75 1220.6V1217.1"/><path class="w" d="M1236.75 1235.8V1230.1"/><path class="c" d="M1233.55 1217.1h6.4M1233.55 1235.8h6.4"/><path class="m" d="M1230.87 1224.4h11.75"/><path class="o" d="M1228.35 1187h16.8M1236.75 1178.6v16.8"/><path class="o" d="M1228.35 1204.2h16.8M1236.75 1195.8v16.8"/><rect class="b" x="1230.87" y="1220.6" width="11.75" height="9.5" fill="#00f"/>
<path class="w" d="M1282.86 1205V1181.9"/><path class="w" d="M1282.86 1239V1232.8"/><path class="c" d="M1279.66 1181.9h6.4M1279.66 1239h6.4"/><path class="m" d="M1276.98 1223.4h11.75"/><path class="o" d="M1274.46 1151.2h16.8M1282.86 1142.8v16.8"/><rect class="b" x="1276.98" y="1205" width="11.75" height="27.8" fill="#0ff"/>
<path class="w" d="M1305.96 1220V1208.6"/><path class="w" d="M1305.96 1235.2V1229.9"/><path class="c" d="M1302.76 1208.6h6.4M1302.76 1235.2h6.4"/><path class="m" d="M1300.08 1224.4h11.75"/><path class="o" d="M1297.56 1191h16.8M1305.96 1182.6v16.8"/><path class="o" d="M1297.56 1201.7h16.8M1305.96 1193.3v16.8"/><rect class="b" x="1300.08" y="1220" width="11.75" height="9.9" fill="#00f"/>
<path class="w" d="M1352.07 1228.2V1218.7"/><path class="w" d="M1352.07 1242.3V1236.6"/><path class="c" d="M1348.87 1218.7h6.4M1348.87 1242.3h6.4"/><path class="m" d="M1346.19 1232.8h11.75"/><path class="o" d="M1343.67 1200.4h16.8M1352.07 1192v16.8"/><path class="o" d="M1343.67 1202.3h16.8M1352.07 1193.9v16.8"/><path class="o" d="M1343.67 1209.9h16.8M1352.07 1201.5v16.8"/><rect class="b" x="1346.19" y="1228.2" width="11.75" height="8.4" fill="#0ff"/>
<path class="w" d="M1375.17 1238.5V1235.2"/><path class="w" d="M1375.17 1244.4V1243.8"/><path class="c" d="M1371.97 1235.2h6.4M1371.97 1244.4h6.4"/><path class="m" d="M1369.29 1241h11.75"/><path class="o" d="M1366.77 1213h16.8M1375.17 1204.6v16.8"/><rect class="b" x="1369.29" y="1238.5" width="11.75" height="5.3" fill="#00f"/>
<path class="w" d="M1421.28 1230.5V1221.3"/><path class="w" d="M1421.28 1243.4V1240.4"/><path class="c" d="M1418.08 1221.3h6.4M1418.08 1243.4h6.4"/><path class="m" d="M1415.4 1236.2h11.75"/><path class="o" d="M1412.88 1209.5h16.8M1421.28 1201.1v16.8"/><rect class="b" x="1415.4" y="1230.5" width="11.75" height="9.9" fill="#0ff"/>
<path class="c" d="M1441.18 1242.5h6.4M1441.18 1245.5h6.4"/><path class="m" d="M1438.5 1244h11.75"/><path class="o" d="M1435.98 1240h16.8M1444.38 1231.6v16.8"/><rect class="b" x="1438.5" y="1243" width="11.75" height="2" fill="#00f"/>
<path class="w" d="M1490.49 1225.7V1208.6"/><path class="w" d="M1490.49 1243.8V1238.5"/><path class="c" d="M1487.29 1208.6h6.4M1487.29 1243.8h6.4"/><path class="m" d="M1484.61 1232.8h11.75"/><path class="o" d="M1482.09 1200.4h16.8M1490.49 1192v16.8"/><path class="o" d="M1482.09 1203.8h16.8M1490.49 1195.4v16.8"/><path class="o" d="M1482.09 1204.6h16.8M1490.49 1196.2v16.8"/><rect class="b" x="1484.61" y="1225.7" width="11.75" height="12.8" fill="#0ff"/>
<path class="w" d="M1513.59 1237.1V1234.3"/><path class="w" d="M1513.59 1242.9V1240"/><path class="c" d="M1510.39 1234.3h6.4M1510.39 1242.9h6.4"/><path class="m" d="M1507.71 1238.7h11.75"/><path class="o" d="M1505.19 1226.1h16.8M1513.59 1217.7v16.8"/><rect class="b" x="1507.71" y="1237.1" width="11.75" height="2.9" fill="#00f"/>
<path class="w" d="M1559.7 1228.2V1219.4"/><path class="w" d="M1559.7 1245.7V1240.4"/><path class="c" d="M1556.5 1219.4h6.4M1556.5 1245.7h6.4"/><path class="m" d="M1553.82 1237.1h11.75"/><path class="o" d="M1551.3 1207.6h16.8M1559.7 1199.2v16.8"/><path class="o" d="M1551.3 1209.1h16.8M1559.7 1200.7v16.8"/><rect class="b" x="1553.82" y="1228.2" width="11.75" height="12.2" fill="#0ff"/>
<path class="w" d="M1582.8 1241V1239"/><path class="c" d="M1579.6 1239h6.4M1579.6 1244.8h6.4"/><path class="m" d="M1576.92 1242.5h11.75"/><path class="o" d="M1574.4 1233h16.8M1582.8 1224.6v16.8"/><rect class="b" x="1576.92" y="1241" width="11.75" height="3.2" fill="#00f"/>
<path class="w" d="M1628.91 1230.9V1221.3"/><path class="w" d="M1628.91 1244.8V1239.4"/><path class="c" d="M1625.71 1221.3h6.4M1625.71 1244.8h6.4"/><path class="m" d="M1623.03 1235.2h11.75"/><path class="o" d="M1620.51 1195.2h16.8M1628.91 1186.8v16.8"/><path class="o" d="M1620.51 1216.2h16.8M1628.91 1207.8v16.8"/><rect class="b" x="1623.03" y="1230.9" width="11.75" height="8.5" fill="#0ff"/>
<path class="c" d="M1648.81 1240.8h6.4M1648.81 1244.3h6.4"/><path class="m" d="M1646.13 1242.5h11.75"/><rect class="b" x="1646.13" y="1241.3" width="11.75" height="2.5" fill="#00f"/>
<path class="w" d="M1698.12 1221.9V1215.6"/><path class="w" d="M1698.12 1245.3V1238.1"/><path class="c" d="M1694.92 1215.6h6.4M1694.92 1245.3h6.4"/><path class="m" d="M1692.24 1232h11.75"/><path class="o" d="M1689.72 1179.6h16.8M1698.12 1171.2v16.8"/><rect class="b" x="1692.24" y="1221.9" width="11.75" height="16.2" fill="#0ff"/>
<path class="w" d="M1721.22 1240.6V1237.7"/><path class="w" d="M1721.22 1245.1V1244.4"/><path class="c" d="M1718.02 1237.7h6.4M1718.02 1245.1h6.4"/><path class="m" d="M1715.34 1242.5h11.75"/><rect class="b" x="1715.34" y="1240.6" width="11.75" height="3.8" fill="#00f"/>
<path class="w" d="M1767.33 1235.8V1228.2"/><path class="w" d="M1767.33 1246.3V1241.5"/><path class="c" d="M1764.13 1228.2h6.4M1764.13 1246.3h6.4"/><path class="m" d="M1761.45 1239h11.75"/><rect class="b" x="1761.45" y="1235.8" width="11.75" height="5.7" fill="#0ff"/>
<path class="w" d="M1790.43 1239.4V1237.1"/><path class="c" d="M1787.23 1237.1h6.4M1787.23 1243.8h6.4"/><path class="m" d="M1784.55 1241h11.75"/><path class="o" d="M1782.03 1222.5h16.8M1790.43 1214.1v16.8"/><path class="o" d="M1782.03 1227.6h16.8M1790.43 1219.2v16.8"/><path class="o" d="M1782.03 1228.6h16.8M1790.43 1220.2v16.8"/><path class="o" d="M1782.03 1229.9h16.8M1790.43 1221.5v16.8"/><rect class="b" x="1784.55" y="1239.4" width="11.75" height="3.8" fill="#00f"/>
<path class="w" d="M1836.54 1221V1212"/><path class="w" d="M1836.54 1246.3V1239"/><path class="c" d="M1833.34 1212h6.4M1833.34 1246.3h6.4"/><path class="m" d="M1830.66 1233.3h11.75"/><path class="o" d="M1828.14 1176.8h16.8M1836.54 1168.4v16.8"/><path class="o" d="M1828.14 1184.8h16.8M1836.54 1176.4v16.8"/><path class="o" d="M1828.14 1193.9h16.8M1836.54 1185.5v16.8"/><rect class="b" x="1830.66" y="1221" width="11.75" height="18" fill="#0ff"/>
<path class="w" d="M1859.64 1245.7V1244.2"/><path class="c" d="M1856.44 1242h6.4M1856.44 1245.7h6.4"/><path class="m" d="M1853.76 1243.3h11.75"/><path class="o" d="M1851.24 1235.6h16.8M1859.64 1227.2v16.8"/><path class="o" d="M1851.24 1237.5h16.8M1859.64 1229.1v16.8"/><path class="o" d="M1851.24 1239h16.8M1859.64 1230.6v16.8"/><path class="o" d="M1851.24 1240.4h16.8M1859.64 1232v16.8"/><rect class="b" x="1853.76" y="1242.5" width="11.75" height="1.7" fill="#00f"/>
<text class="ti" x="838.8" y="774.4" xml:space="preserve" letter-spacing="0.65">PA<tspan dy="1.9" stroke="#000" stroke-width="2">_</tspan><tspan dy="-1.9">rVAR   </tspan><tspan x="1088.9" letter-spacing="-0.4">[10 Hz]</tspan></text>
<text class="pl" x="12.4" y="791">B</text>
<text class="l" transform="translate(53.3 1242.2) rotate(-90)">Explained variance [%]</text>
<text class="xl" text-anchor="middle" x="1003.8" y="1401.6">k [order of PCs]</text>
<rect x="1719" y="829.4" width="61" height="30.4" fill="#0ff" stroke="#111" stroke-width="1"/>
<rect x="1719" y="866.8" width="61" height="30.4" fill="#00f" stroke="#111" stroke-width="1"/>
<text class="lg2" x="1797.3" y="853.4">FS</text><text class="lg2" x="1797.3" y="894.7">WB</text>
</g>
</svg></body></html>
